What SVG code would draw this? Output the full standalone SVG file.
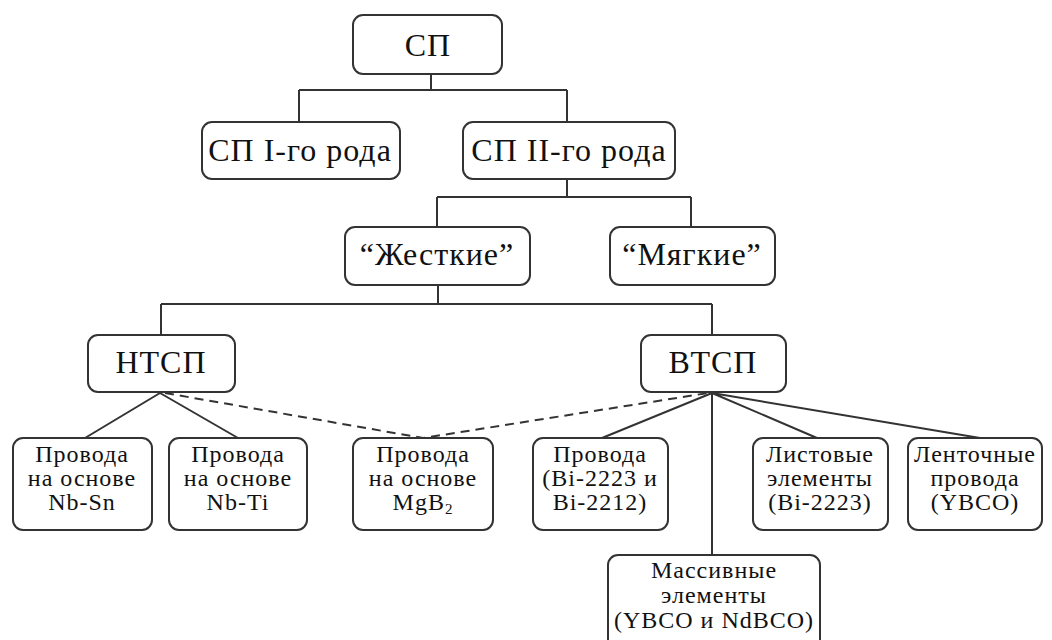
<svg xmlns="http://www.w3.org/2000/svg" width="1052" height="640" viewBox="0 0 1052 640">
<style>
.box{fill:#fff;stroke:#333;stroke-width:2}
.big{font-size:32px;fill:#111;text-anchor:middle;letter-spacing:1px}
.sm{font-size:24px;fill:#111;text-anchor:middle;letter-spacing:1px}
.ln{stroke:#333;stroke-width:2;fill:none}
.dash{stroke:#333;stroke-width:2;fill:none;stroke-dasharray:9 6}
</style>
<rect width="1052" height="640" fill="#fff"/>
<g id="connectors">
<path class="ln" d="M431 74V90M299 90H567M299 90V122M567 90V122"/>
<path class="ln" d="M567 179V197M437 197H691M437 197V227M691 197V227"/>
<path class="ln" d="M438 285V304M161 304H712M161 304V335M712 304V335"/>
<path class="ln" d="M160 393L85 438M160 393L238 438"/>
<path class="dash" d="M165 393L423 438L708 393"/>
<path class="ln" d="M712 393L602 438M712 393V555M712 393L817 438M712 393L980 438"/>
</g>
<g font-family="Liberation Serif, serif">
<g id="sp"><rect class="box" x="353" y="15" width="149" height="59" rx="10"/><text class="big" x="428" y="56">СП</text></g>
<g id="sp1"><rect class="box" x="202" y="122" width="198" height="57" rx="10"/><text class="big" x="300" y="161">СП I-го рода</text></g>
<g id="sp2"><rect class="box" x="463" y="122" width="212" height="57" rx="10"/><text class="big" x="569" y="161">СП II-го рода</text></g>
<g id="hard"><rect class="box" x="345" y="227" width="185" height="58" rx="10"/><text class="big" x="437" y="265">“Жесткие”</text></g>
<g id="soft"><rect class="box" x="610" y="227" width="165" height="58" rx="10"/><text class="big" x="692" y="265">“Мягкие”</text></g>
<g id="ltsc"><rect class="box" x="88" y="335" width="147" height="57" rx="10"/><text class="big" x="161" y="373">НТСП</text></g>
<g id="htsc"><rect class="box" x="641" y="335" width="145" height="57" rx="10"/><text class="big" x="713" y="373">ВТСП</text></g>
<g id="nbsn"><rect class="box" x="13" y="438" width="139" height="92" rx="10"/><text class="sm" x="82" y="462">Провода</text><text class="sm" x="82" y="486">на основе</text><text class="sm" x="82" y="510">Nb-Sn</text></g>
<g id="nbti"><rect class="box" x="169" y="438" width="138" height="92" rx="10"/><text class="sm" x="238" y="462">Провода</text><text class="sm" x="238" y="486">на основе</text><text class="sm" x="238" y="510">Nb-Ti</text></g>
<g id="mgb2"><rect class="box" x="353" y="438" width="140" height="92" rx="10"/><text class="sm" x="423" y="462">Провода</text><text class="sm" x="423" y="486">на основе</text><text class="sm" x="423" y="510">MgB<tspan font-size="15" dy="4">2</tspan></text></g>
<g id="bi"><rect class="box" x="533" y="438" width="135" height="92" rx="10"/><text class="sm" x="600" y="462">Провода</text><text class="sm" x="600" y="486">(Bi-2223 и</text><text class="sm" x="600" y="510">Bi-2212)</text></g>
<g id="sheet"><rect class="box" x="753" y="438" width="135" height="92" rx="10"/><text class="sm" x="820" y="462">Листовые</text><text class="sm" x="820" y="486">элементы</text><text class="sm" x="820" y="510">(Bi-2223)</text></g>
<g id="tape"><rect class="box" x="908" y="438" width="134" height="92" rx="10"/><text class="sm" x="975" y="462">Ленточные</text><text class="sm" x="975" y="486">провода</text><text class="sm" x="975" y="510">(YBCO)</text></g>
<g id="bulk"><rect class="box" x="608" y="555" width="212" height="100" rx="10"/><text class="sm" x="714" y="578">Массивные</text><text class="sm" x="714" y="603">элементы</text><text class="sm" x="714" y="628">(YBCO и NdBCO)</text></g>
</g>
</svg>
